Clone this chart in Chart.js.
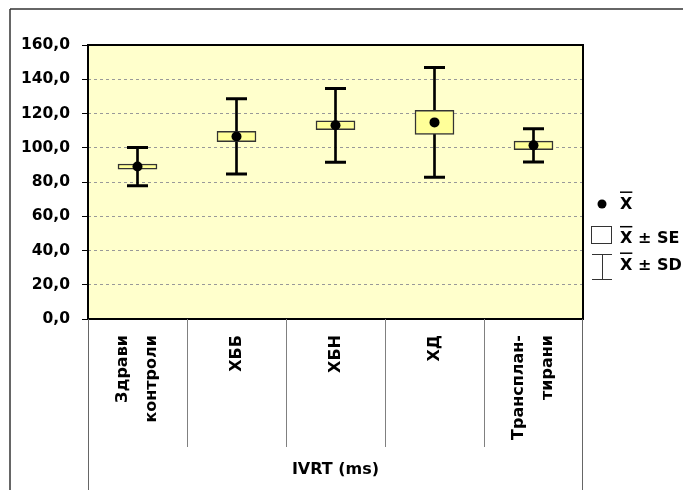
<!DOCTYPE html>
<html><head><meta charset="utf-8">
<script src="https://cdn.jsdelivr.net/npm/chart.js@4"></script>
<style>html,body{margin:0;padding:0;background:#fff;overflow:hidden}#wrap{position:relative;width:683px;height:490px}</style>
</head><body><div id="wrap"><canvas id="c" width="683" height="490"></canvas></div>
<script>
// ---- data ----
const categories = [['Здрави', 'контроли'], 'ХББ', 'ХБН', 'ХД', ['Трансплан-', 'тирани']];
const means = [89.0, 106.6, 113.1, 114.8, 101.4];
const seValues = [1.5, 3.0, 2.6, 7.0, 2.5];
const sdValues = [11.2, 22.0, 21.5, 32.0, 9.7];
const yTickValues = [0, 20, 40, 60, 80, 100, 120, 140, 160];
const axisTitle = 'IVRT (ms)';
const legendLabels = ['X', 'X ± SE', 'X ± SD'];

const FONT = '"DejaVu Sans", sans-serif';

const seRanges = means.map((m, i) => [m - seValues[i], m + seValues[i]]);
const sdRanges = means.map((m, i) => [m - sdValues[i], m + sdValues[i]]);
const sdHigh = means.map((m, i) => m + sdValues[i]);
const sdLow = means.map((m, i) => m - sdValues[i]);

function line(ctx, x1, y1, x2, y2) { ctx.beginPath(); ctx.moveTo(x1, y1); ctx.lineTo(x2, y2); ctx.stroke(); }

const deco = {
  id: 'deco',
  beforeDraw(chart) {
    const { ctx, chartArea: a } = chart;
    ctx.save();
    ctx.fillStyle = '#ffffff';
    ctx.fillRect(0, 0, chart.width, chart.height);
    ctx.fillStyle = '#FFFFCC';
    ctx.fillRect(a.left, a.top, a.right - a.left, a.bottom - a.top);
    ctx.restore();
  },
  afterDraw(chart) {
    const { ctx, chartArea: a, scales: { x } } = chart;
    ctx.save();
    // plot frame
    ctx.strokeStyle = '#000'; ctx.lineWidth = 2;
    ctx.strokeRect(a.left, a.top, a.right - a.left, a.bottom - a.top);
    // category dividers
    ctx.strokeStyle = '#808080'; ctx.lineWidth = 1;
    for (let i = 1; i < categories.length; i++) {
      const px = Math.round((x.getPixelForValue(i - 1) + x.getPixelForValue(i)) / 2) + 0.5;
      line(ctx, px, a.bottom, px, 447);
    }
    ctx.strokeStyle = '#666';
    line(ctx, a.left + 0.5, a.bottom, a.left + 0.5, chart.height);
    line(ctx, a.right - 0.5, a.bottom, a.right - 0.5, chart.height);
    // outer frame
    ctx.strokeStyle = '#333'; ctx.lineWidth = 1.5;
    line(ctx, 10, 9, chart.width, 9);
    line(ctx, 10, 9, 10, chart.height);
    // category labels
    ctx.fillStyle = '#000';
    ctx.font = 'bold 16px ' + FONT;
    ctx.textAlign = 'right'; ctx.textBaseline = 'middle';
    categories.forEach((c, i) => {
      const lines = Array.isArray(c) ? c : [c];
      const cx = x.getPixelForValue(i);
      const lh = 29;
      lines.forEach((t, j) => {
        const lx = cx + (j - (lines.length - 1) / 2) * lh;
        ctx.save(); ctx.translate(lx, 335); ctx.rotate(-Math.PI / 2); ctx.fillText(t, 0, 0); ctx.restore();
      });
    });
    // legend
    ctx.textAlign = 'left'; ctx.textBaseline = 'alphabetic';
    ctx.font = 'bold 16px ' + FONT;
    const tx = 620;
    const baselines = [208.5, 243, 269.5];
    const xw = ctx.measureText('X').width;
    legendLabels.forEach((t, k) => {
      ctx.fillStyle = '#000';
      ctx.fillText(t, tx, baselines[k]);
      ctx.strokeStyle = '#000'; ctx.lineWidth = 1.5;
      line(ctx, tx, baselines[k] - 16.3, tx + xw, baselines[k] - 16.3);
    });
    ctx.fillStyle = '#000';
    ctx.beginPath(); ctx.arc(602, 204, 4.5, 0, Math.PI * 2); ctx.fill();
    ctx.strokeStyle = '#333'; ctx.lineWidth = 1;
    ctx.strokeRect(591.5, 226.5, 20, 17);
    line(ctx, 592, 254.5, 612, 254.5);
    line(ctx, 602.5, 254.5, 602.5, 279.5);
    line(ctx, 592, 279.5, 612, 279.5);
    ctx.restore();
  }
};

new Chart(document.getElementById('c'), {
  type: 'bar',
  data: {
    labels: categories,
    datasets: [
      { type: 'bar', data: sdRanges, backgroundColor: '#000', borderWidth: 0, barThickness: 2, grouped: false, order: 5 },
      { type: 'line', data: sdHigh, showLine: false, pointStyle: 'line', pointRadius: 10.5, pointBorderWidth: 3, pointBorderColor: '#000', borderColor: '#000', order: 4 },
      { type: 'line', data: sdLow, showLine: false, pointStyle: 'line', pointRadius: 10.5, pointBorderWidth: 3, pointBorderColor: '#000', borderColor: '#000', order: 3 },
      { type: 'bar', data: seRanges, backgroundColor: '#FFFF99', borderColor: '#333', borderWidth: 1.5, borderSkipped: false, barThickness: 39, grouped: false, order: 2 },
      { type: 'line', data: means, showLine: false, pointStyle: 'circle', pointRadius: 5, pointBackgroundColor: '#000', pointBorderColor: '#000', pointBorderWidth: 0, order: 1 }
    ]
  },
  options: {
    responsive: false,
    animation: false,
    events: [],
    devicePixelRatio: 1,
    layout: { padding: { top: 45, right: 100, left: 0, bottom: 0 } },
    plugins: { legend: { display: false }, tooltip: { enabled: false } },
    scales: {
      x: {
        offset: true,
        grid: { display: false },
        border: { display: false },
        ticks: { display: false },
        title: { display: true, text: axisTitle, color: '#000', font: { family: FONT, size: 16, weight: 'bold' }, padding: { top: 0, bottom: 11 } },
        afterFit(s) { s.height = 171; }
      },
      y: {
        min: 0, max: 160,
        afterBuildTicks(s) { s.ticks = yTickValues.map(v => ({ value: v })); },
        grid: { color: '#999', lineWidth: 1, tickColor: '#000', tickLength: 6, tickWidth: 1 },
        border: { display: false, dash: [3, 3] },
        ticks: {
          color: '#000', padding: 12,
          font: { family: FONT, size: 15.5, weight: 'bold' },
          callback: v => v.toFixed(1).replace('.', ',')
        },
        afterFit(s) { s.width = 88; }
      }
    }
  },
  plugins: [deco]
});
</script>
</body></html>
